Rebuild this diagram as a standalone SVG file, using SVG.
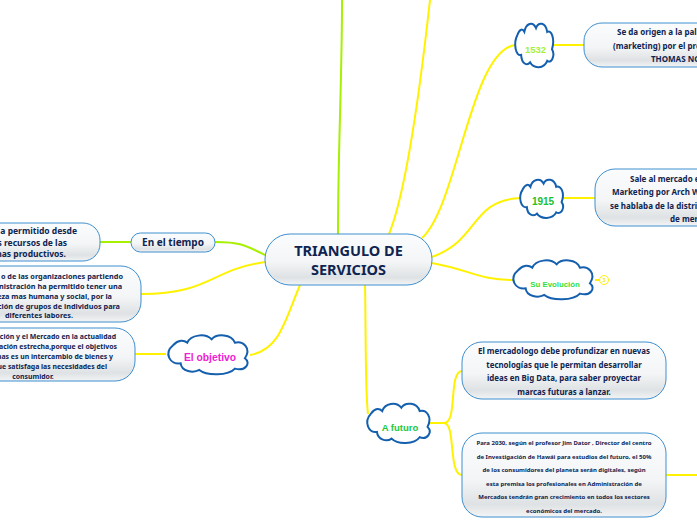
<svg xmlns="http://www.w3.org/2000/svg" width="697" height="520" viewBox="0 0 697 520">
<style>
text{font-family:"Noto Sans","Open Sans","DejaVu Sans",sans-serif;font-weight:700;fill:#0f2450}
.c{text-anchor:middle}
.e{text-anchor:end}
.box{fill:url(#g);stroke:#3f8fd0;stroke-width:1}
.cloud{fill:#fff;stroke:#1560ae;stroke-width:2;vector-effect:non-scaling-stroke}
.ln{fill:none;stroke:#fff200;stroke-width:2}
.lg{fill:none;stroke:#a6f000;stroke-width:2}
.a{font-family:"Liberation Sans",Arial,sans-serif}
</style>
<defs>
<linearGradient id="g" x1="0" y1="0" x2="0" y2="1"><stop offset="0" stop-color="#fbfcfd"/><stop offset=".55" stop-color="#f3f5f6"/><stop offset=".85" stop-color="#dfe2e4"/><stop offset="1" stop-color="#f2f4f5"/></linearGradient>
<path id="cl" class="cloud" d="M40 45C55 28 72 30 82 38C92 15 135 8 155 28C170 10 215 12 225 38C250 32 275 55 255 85C275 100 255 125 225 116C205 138 140 138 118 120C100 130 65 125 62 100C30 105 10 70 40 45Z"/>
</defs>
<rect width="697" height="520" fill="#fff"/>
<g id="connectors">
<path class="lg" d="M338 234C338 150 342 80 342 0"/>
<path class="ln" d="M389 234C405 195 420 90 430 0"/>
<path class="ln" d="M422 238C458 205 470 52 515 45"/>
<path class="ln" d="M554 45H584"/>
<path class="ln" d="M432 257C480 240 470 200 521 198"/>
<path class="ln" d="M563 198H595"/>
<path class="ln" d="M432 263C470 270 480 280 513 280"/>
<path class="ln" d="M595 280H600"/>
<path class="ln" d="M365 285C366 330 365 390 368 414"/>
<path class="ln" d="M430 423H444C458 423 448 372 462 371"/>
<path class="ln" d="M444 423C456 423 448 475 462 475"/>
<path class="ln" d="M666 475H697"/>
<path class="lg" d="M265 255C245 245 240 242 215 242"/>
<path class="lg" d="M131 242H100"/>
<path class="ln" d="M265 262C210 270 210 294 141 294"/>
<path class="ln" d="M300 285C285 320 280 350 250 355"/>
<path class="ln" d="M166 354H135"/>
</g>
<g id="central"><rect class="box" x="265" y="234" width="167" height="51" rx="25"/>
<text class="c" x="348.500" y="256" font-size="14.500">TRIANGULO DE</text><text class="c" x="348.500" y="275" font-size="14.500">SERVICIOS</text></g>
<g id="en-el-tiempo"><rect class="box" x="131" y="233" width="84" height="19" rx="9.500"/><text class="c" x="173" y="246" font-size="10">En el tiempo</text></g>
<g id="n-tiempo"><rect class="box" x="-60" y="223" width="160" height="38" rx="17"/>
<g font-size="8.500"><text class="e" x="77" y="234">a permitido desde</text><text class="e" x="67" y="246">s recursos de las</text><text class="e" x="66" y="257">mas productivos.</text></g></g>
<g id="n-organizaciones"><rect class="box" x="-60" y="266" width="201" height="56" rx="20"/>
<g font-size="7.300"><text class="e" x="123" y="279">o de las organizaciones partiendo</text><text class="e" x="122" y="289">nistración ha permitido tener una</text><text class="e" x="112" y="299">eza mas humana y social, por la</text><text class="e" x="120" y="309">ción de grupos de individuos para</text><text class="c" x="39" y="318">diferentes labores.</text></g></g>
<g id="n-objetivo"><rect class="box" x="-60" y="328" width="195" height="53" rx="20"/>
<g font-size="6.900"><text class="e" x="116" y="338.500">ción y el Mercado en la actualidad</text><text class="e" x="117" y="348.500">ación estrecha,porque el objetivos</text><text class="e" x="113" y="358.500">mas es un intercambio de bienes y</text><text class="e" x="107" y="368.500">que satisfaga las necesidades del</text><text class="c" x="33" y="378.500">consumidor.</text></g></g>
<g id="el-objetivo"><use href="#cl" transform="translate(160 330) scale(.333)"/><text class="c a" x="210" y="361" font-size="10.300" style="fill:#f020d0">El objetivo</text></g>
<g id="y1532"><use href="#cl" transform="translate(511.200 17.700) scale(.16 .372)"/><text class="c a" x="535.500" y="52.500" font-size="9.500" style="fill:#a6f03c">1532</text></g>
<g id="n1532"><rect class="box" x="584" y="23" width="170" height="44" rx="18"/>
<g font-size="8"><text x="617" y="35">Se da origen a la pal</text><text x="613" y="49">(marketing) por el pre</text><text x="651" y="62">THOMAS NO</text></g></g>
<g id="y1915"><use href="#cl" transform="translate(515.700 174.400) scale(.18 .327)"/><text class="c a" x="543" y="205" font-size="10" style="fill:#20c030">1915</text></g>
<g id="n1915"><rect class="box" x="595" y="169" width="170" height="57" rx="20"/>
<g font-size="8"><text x="630" y="182">Sale al mercado e</text><text x="612" y="195">Marketing por Arch W</text><text x="610" y="209">se hablaba de la distri</text><text x="670" y="222">de mer</text></g></g>
<g id="su-evolucion"><use href="#cl" transform="translate(505 255) scale(.333)"/><text class="c a" x="555" y="287" font-size="7.800" style="fill:#30e040">Su Evolución</text></g>
<g id="badge"><circle cx="604" cy="280" r="4.500" fill="#fff" stroke="#fff200" stroke-width="1"/><text class="c" x="604" y="282" font-size="5" style="fill:#f5e800">3</text></g>
<g id="n-mercadologo"><rect class="box" x="462" y="342" width="204" height="57" rx="20"/>
<g font-size="7.900"><text class="c" x="564" y="354">El mercadologo debe profundizar en nuevas</text><text class="c" x="564" y="368">tecnologías que le permitan  desarrollar</text><text class="c" x="564" y="381">ideas en Big Data, para saber proyectar</text><text class="c" x="564" y="395">marcas futuras a lanzar.</text></g></g>
<g id="n-2030"><rect class="box" x="462" y="433" width="204" height="84" rx="20"/>
<g font-size="6"><text class="c" x="564" y="445">Para 2030, según el profesor Jim Dator , Director del centro</text><text class="c" x="564" y="459">de Investigación de Hawái para estudios del futuro, el 50%</text><text class="c" x="564" y="472">de los consumidores del planeta serán digitales, según</text><text class="c" x="564" y="486">esta premisa los profesionales en Administración de</text><text class="c" x="564" y="499">Mercados tendrán gran crecimiento en todos los sectores</text><text class="c" x="564" y="513">económicos del mercado.</text></g></g>
<g id="a-futuro"><use href="#cl" transform="translate(360.700 398.300) scale(.262 .336)"/><text class="c a" x="400" y="430.500" font-size="9.500" style="fill:#20c840">A futuro</text></g>
</svg>
